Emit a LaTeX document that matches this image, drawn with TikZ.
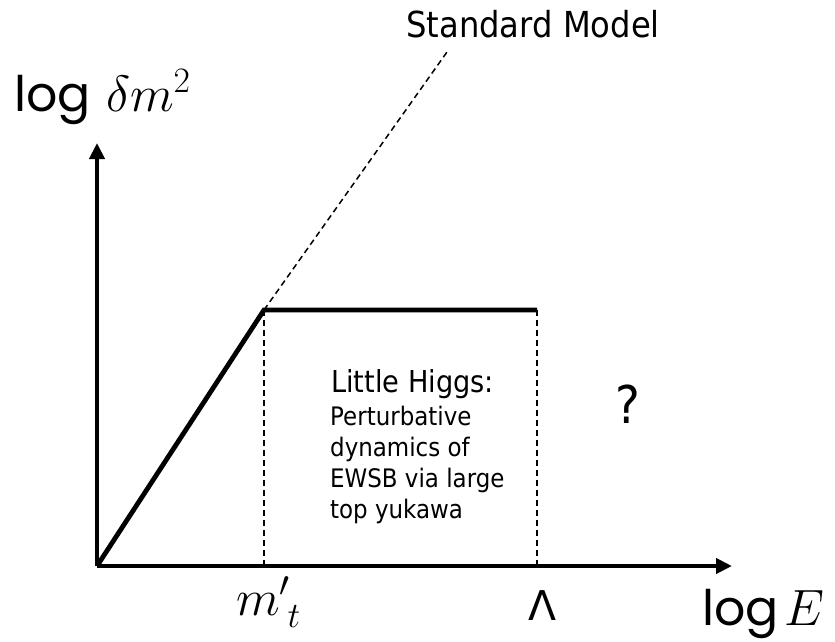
\RequirePackage{fix-cm}
\documentclass[tikz,border=0pt]{standalone}
\usepackage{fontspec}
\usetikzlibrary{arrows.meta}
\newfontfamily\tahfont[FakeStretch=0.9]{DejaVu Sans}
\newfontfamily\dvfont{DejaVu Sans}
\newfontfamily\popfont{Poppins}
\newcommand{\logword}{{\fontsize{49}{49}\selectfont\popfont log}}
\begin{document}
\begin{tikzpicture}[x=1pt,y=-1pt,
  axisline/.style={line width=4pt,-{Triangle[length=16pt,width=15pt]}},
  curveline/.style={line width=4.8pt,line join=miter},
  guide/.style={line width=1.5pt,dash pattern=on 6pt off 4pt},
  lbl/.style={inner sep=0pt,anchor=base west},
  axislbl/.style={lbl,font=\fontsize{51}{51}\selectfont},
]
\useasboundingbox (0,0) rectangle (835,642);
\coordinate (O) at (97,566);
\coordinate (Ytip) at (97,143);
\coordinate (Xtip) at (732,566);
\coordinate (K) at (264,310);
\coordinate (P) at (537,310);
\coordinate (S) at (447,52);
\coordinate (Kb) at (264,566);
\coordinate (Pb) at (537,566);

% guides
\draw[guide] (K) -- (S);
\draw[guide] (K) -- (Kb);
\draw[guide] (P) -- (Pb);

% axes
\draw[axisline] (O) -- (Ytip);
\draw[axisline] (O) -- (Xtip);

% curve
\draw[curveline] (O) -- (K) -- (P);

% labels
\node[lbl,font=\tahfont\fontsize{35.8}{36}\selectfont] (sm) at (406,38) {Standard Model};
\node[axislbl] (ylab) at (14,111) {\logword\hspace{0.3em}$\delta m^2$};
\node[axislbl] (xlab) at (702,625) {\logword\hspace{0.12em}$E$};
\node[axislbl] (mt) at (236,615) {$m'_{\kern0.15em t}$};
\node[lbl,font=\dvfont\fontsize{41}{41}\selectfont] (lam) at (528,620) {Λ};
\node[lbl,font=\tahfont\fontsize{30.2}{31}\selectfont] (lh) at (331,392) {Little Higgs:};
\node[inner sep=0pt,anchor=north west,align=left,font=\tahfont\fontsize{25.5}{31}\selectfont] (body) at (330,405.6)
  {Perturbative\\dynamics of\\EWSB via large\\top yukawa};
\node[lbl,font=\tahfont\fontsize{52}{52}\selectfont] (q) at (615,423) {?};
\end{tikzpicture}
\end{document}
